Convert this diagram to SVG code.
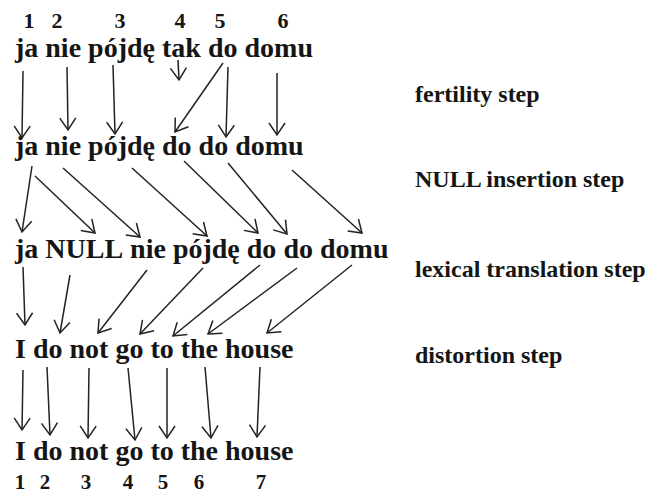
<svg xmlns="http://www.w3.org/2000/svg" width="648" height="495" viewBox="0 0 648 495">
<style>
.w{font-family:"Liberation Serif","Times New Roman",serif;font-weight:bold;font-size:28px;fill:#151515}
.n{font-family:"Liberation Serif","Times New Roman",serif;font-weight:bold;font-size:22px;fill:#151515;text-anchor:middle}
.nb{font-size:21px}
.l{font-family:"Liberation Serif","Times New Roman",serif;font-weight:bold;font-size:24px;fill:#151515}
.a{stroke:#222;stroke-width:1.5;fill:none;marker-end:url(#ah)}
</style>
<defs>
<marker id="ah" viewBox="-14 -10 16 20" markerWidth="16" markerHeight="20" refX="0" refY="0" orient="auto" markerUnits="userSpaceOnUse">
<path d="M-12,-8 L0,0 L-12,8" fill="none" stroke="#222" stroke-width="1.5"/>
</marker>
</defs>
<rect width="648" height="495" fill="#fff"/>
<g id="numbers-top">
<text class="n" x="29" y="28">1</text><text class="n" x="57" y="28">2</text><text class="n" x="120" y="28">3</text><text class="n" x="180" y="28">4</text><text class="n" x="220" y="28">5</text><text class="n" x="283" y="28">6</text>
</g>
<g id="row1">
<text class="w" x="15" y="57">ja</text><text class="w" x="45.3" y="57">nie</text><text class="w" x="88.1" y="57">pójdę</text><text class="w" x="162" y="57">tak</text><text class="w" x="207.9" y="57">do</text><text class="w" x="244.5" y="57">domu</text>
</g>
<g id="row2">
<text class="w" x="15" y="155">ja</text><text class="w" x="45.3" y="155">nie</text><text class="w" x="88.1" y="155">pójdę</text><text class="w" x="162" y="155">do</text><text class="w" x="198.6" y="155">do</text><text class="w" x="235.2" y="155">domu</text>
</g>
<g id="row3">
<text class="w" x="15" y="258">ja</text><text class="w" x="45.3" y="258">NULL</text><text class="w" x="130.1" y="258">nie</text><text class="w" x="172.9" y="258">pójdę</text><text class="w" x="246.8" y="258">do</text><text class="w" x="283.4" y="258">do</text><text class="w" x="320" y="258">domu</text>
</g>
<g id="row4">
<text class="w" x="15" y="358">I</text><text class="w" x="32.9" y="358">do</text><text class="w" x="69.5" y="358">not</text><text class="w" x="115.4" y="358">go</text><text class="w" x="150.4" y="358">to</text><text class="w" x="180.7" y="358">the</text><text class="w" x="225" y="358">house</text>
</g>
<g id="row5">
<text class="w" x="15" y="460">I</text><text class="w" x="32.9" y="460">do</text><text class="w" x="69.5" y="460">not</text><text class="w" x="115.4" y="460">go</text><text class="w" x="150.4" y="460">to</text><text class="w" x="180.7" y="460">the</text><text class="w" x="225" y="460">house</text>
</g>
<g id="numbers-bottom">
<text class="n nb" x="20" y="489">1</text><text class="n nb" x="45" y="489">2</text><text class="n nb" x="86" y="489">3</text><text class="n nb" x="128" y="489">4</text><text class="n nb" x="163" y="489">5</text><text class="n nb" x="199" y="489">6</text><text class="n nb" x="261" y="489">7</text>
</g>
<g id="step-labels">
<text class="l" x="415" y="102">fertility step</text>
<text class="l" x="415" y="187">NULL insertion step</text>
<text class="l" x="415" y="277">lexical translation step</text>
<text class="l" x="415" y="363">distortion step</text>
</g>
<g id="connectors">
<line class="a" x1="23" y1="71" x2="22" y2="138"/>
<line class="a" x1="67" y1="67" x2="68" y2="130"/>
<line class="a" x1="113" y1="65" x2="115" y2="134"/>
<line class="a" x1="178" y1="60" x2="179" y2="80"/>
<line class="a" x1="223" y1="63" x2="175" y2="132"/>
<line class="a" x1="228" y1="67" x2="226" y2="137"/>
<line class="a" x1="277" y1="73" x2="277" y2="135"/>

<line class="a" x1="32" y1="166" x2="22" y2="232"/>
<line class="a" x1="35" y1="176" x2="95" y2="233"/>
<line class="a" x1="63" y1="168" x2="140" y2="237"/>
<line class="a" x1="132" y1="168" x2="207" y2="236"/>
<line class="a" x1="184" y1="161" x2="258" y2="233"/>
<line class="a" x1="228" y1="163" x2="287" y2="234"/>
<line class="a" x1="292" y1="170" x2="362" y2="233"/>

<line class="a" x1="23" y1="267" x2="25" y2="325"/>
<line class="a" x1="70" y1="275" x2="60" y2="333"/>
<line class="a" x1="147" y1="270" x2="98" y2="333"/>
<line class="a" x1="203" y1="268" x2="140" y2="334"/>
<line class="a" x1="260" y1="265" x2="173" y2="336"/>
<line class="a" x1="297" y1="268" x2="208" y2="334"/>
<line class="a" x1="352" y1="265" x2="267" y2="333"/>

<line class="a" x1="23" y1="370" x2="22" y2="430"/>
<line class="a" x1="47" y1="367" x2="50" y2="435"/>
<line class="a" x1="89" y1="368" x2="88" y2="438"/>
<line class="a" x1="128" y1="368" x2="135" y2="440"/>
<line class="a" x1="167" y1="368" x2="167" y2="438"/>
<line class="a" x1="205" y1="367" x2="211" y2="438"/>
<line class="a" x1="260" y1="367" x2="257" y2="437"/>
</g>
</svg>
